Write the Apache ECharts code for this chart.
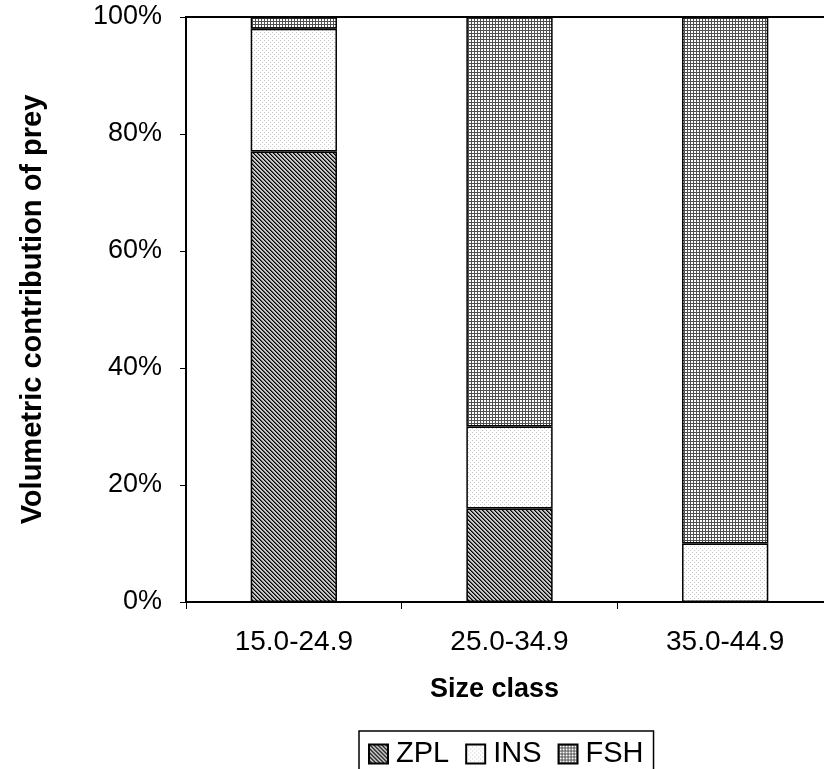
<!DOCTYPE html>
<html>
<head>
<meta charset="utf-8">
<script src="https://cdn.jsdelivr.net/npm/echarts@6/dist/echarts.min.js"></script>
<style>
  html, body { margin: 0; padding: 0; background: #fff; }
  #chart { width: 824px; height: 769px; }
</style>
</head>
<body>
<div id="chart"></div>
<script>
// Size classes (cm) and volumetric prey shares (%)
const categories = ['15.0-24.9', '25.0-34.9', '35.0-44.9'];
const zplValues = [77, 16, 0];
const insValues = [21, 14, 10];
const fshValues = [2, 70, 90];
const seriesNames = ['ZPL', 'INS', 'FSH'];

// Small tiled fill patterns for each prey type
function makePattern(size, painter) {
  const c = document.createElement('canvas');
  c.width = size; c.height = size;
  const ctx = c.getContext('2d');
  painter(ctx, size);
  return { image: c, repeat: 'repeat' };
}

const zplPattern = makePattern(4, (ctx, n) => {
  const shades = ['#000000', '#606060', '#c8c8c8', '#c8c8c8'];
  for (let y = 0; y < n; y++) {
    for (let x = 0; x < n; x++) {
      const d = ((x - y) % n + n) % n;
      ctx.fillStyle = shades[d];
      ctx.fillRect(x, y, 1, 1);
    }
  }
});

const insPattern = makePattern(4, (ctx, n) => {
  ctx.fillStyle = '#ffffff';
  ctx.fillRect(0, 0, n, n);
  ctx.fillStyle = '#c8c8c8';
  ctx.fillRect(0, 0, 1, 1);
  ctx.fillRect(2, 2, 1, 1);
});

const fshPattern = makePattern(3, (ctx, n) => {
  ctx.fillStyle = '#ffffff';
  ctx.fillRect(0, 0, n, n);
  ctx.fillStyle = '#505050';
  ctx.fillRect(0, 0, n, 1);
  ctx.fillRect(0, 0, 1, n);
});

const patterns = [zplPattern, insPattern, fshPattern];
const values = [zplValues, insValues, fshValues];

const chart = echarts.init(document.getElementById('chart'), null, { renderer: 'canvas' });

const font = 'Liberation Sans, Arial, sans-serif';

chart.setOption({
  animation: false,
  backgroundColor: '#ffffff',
  grid: {
    left: 186, top: 17, width: 647, height: 585,
    outerBoundsMode: 'none',
    containLabel: false,
    show: true, borderColor: '#000', borderWidth: 2, backgroundColor: 'transparent'
  },
  legend: {
    left: 359, top: 731,
    data: seriesNames,
    icon: 'rect',
    itemWidth: 19, itemHeight: 19, itemGap: 16,
    borderColor: '#000', borderWidth: 1.5,
    padding: [6, 10, 20, 9],
    textStyle: { fontFamily: font, fontSize: 29, lineHeight: 34, color: '#000', padding: [0, 0, 0, 3] }
  },
  xAxis: {
    type: 'category',
    data: categories,
    name: 'Size class',
    nameLocation: 'middle',
    nameGap: 74,
    nameTextStyle: { fontFamily: font, fontSize: 27, fontWeight: 'bold', color: '#000', padding: [0, 30, 0, 0] },
    axisLine: { lineStyle: { color: '#000', width: 2 } },
    axisTick: { show: true, length: 7, lineStyle: { color: '#000', width: 1 } },
    axisLabel: { fontFamily: font, fontSize: 28, color: '#000', margin: 26 },
    splitLine: { show: false }
  },
  yAxis: {
    type: 'value',
    min: 0, max: 100, interval: 20,
    name: 'Volumetric contribution of prey',
    nameLocation: 'middle',
    nameGap: 139,
    nameRotate: 90,
    nameTextStyle: { fontFamily: font, fontSize: 29, fontWeight: 'bold', color: '#000' },
    axisLine: { show: true, lineStyle: { color: '#000', width: 2 } },
    axisTick: { show: true, length: 6, lineStyle: { color: '#000', width: 1 } },
    axisLabel: { fontFamily: font, fontSize: 27, color: '#000', margin: 24, formatter: '{value}%' },
    splitLine: { show: false }
  },
  series: seriesNames.map((name, i) => ({
    name: name,
    type: 'bar',
    stack: 'prey',
    barWidth: '40%',
    data: values[i],
    itemStyle: { color: patterns[i], borderColor: '#000', borderWidth: 1.5 },
    emphasis: { disabled: true }
  }))
});
</script>
</body>
</html>
